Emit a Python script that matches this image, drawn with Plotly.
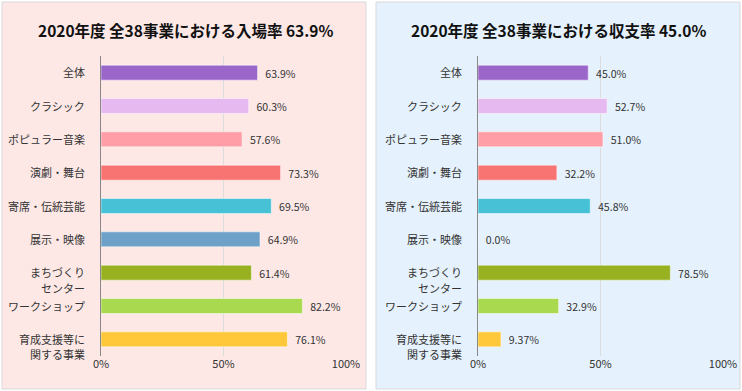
import plotly.graph_objects as go

categories = ["全体", "クラシック", "ポピュラー音楽", "演劇・舞台", "寄席・伝統芸能",
              "展示・映像", "まちづくり<br>センター", "ワークショップ", "育成支援等に<br>関する事業"]
attendance = [63.9, 60.3, 57.6, 73.3, 69.5, 64.9, 61.4, 82.2, 76.1]
attendance_text = ["63.9%", "60.3%", "57.6%", "73.3%", "69.5%", "64.9%", "61.4%", "82.2%", "76.1%"]
balance = [45.0, 52.7, 51.0, 32.2, 45.8, 0.0, 78.5, 32.9, 9.37]
balance_text = ["45.0%", "52.7%", "51.0%", "32.2%", "45.8%", "0.0%", "78.5%", "32.9%", "9.37%"]
bar_colors = ["#9b66c9", "#e6baf0", "#ff9ea6", "#f87472", "#46c1d6",
              "#6ea1c8", "#97b120", "#a9d94f", "#ffc73a"]
x_ticks = [0, 50, 100]
x_tick_labels = ["0%", "50%", "100%"]
titles = ["2020年度 全38事業における入場率 63.9%", "2020年度 全38事業における収支率 45.0%"]

W, H = 742, 391
font = "Noto Sans CJK JP"

fig = go.Figure()
for i, (vals, txt) in enumerate([(attendance, attendance_text), (balance, balance_text)]):
    xa = "x" if i == 0 else "x2"
    ya = "y" if i == 0 else "y2"
    fig.add_trace(go.Bar(
        x=vals, y=categories, orientation="h", xaxis=xa, yaxis=ya,
        marker=dict(color=bar_colors, line=dict(color="rgba(255,255,255,0.5)", width=1)),
        width=0.45, text=txt, texttemplate="  %{text}", textposition="outside", cliponaxis=False,
        textfont=dict(size=12, color="#333", family=font),
        hoverinfo="skip", showlegend=False,
    ))

def px_x(p):
    return p / W

def px_y(p):
    return 1 - p / H

left_dom = [px_x(101), px_x(346)]
right_dom = [px_x(478), px_x(723)]
ydom = [px_y(356), px_y(56)]

xcommon = dict(range=[0, 100], tickvals=x_ticks, ticktext=x_tick_labels, showgrid=True,
               gridcolor="#dcdcdc", gridwidth=1, zeroline=False, showline=False, automargin=False,
               tickfont=dict(size=11, color="#333", family=font), fixedrange=True)
ycommon = dict(autorange="reversed", showline=True, linecolor="#888", linewidth=1, automargin=False,
               showticklabels=False, ticks="", showgrid=False, fixedrange=True)

annotations = [
    dict(text="<b>" + titles[0] + "</b>", xref="paper", yref="paper", x=px_x(185), y=px_y(30),
         showarrow=False, font=dict(size=15.5, color="#111", family=font), xanchor="center", yanchor="middle"),
    dict(text="<b>" + titles[1] + "</b>", xref="paper", yref="paper", x=px_x(558), y=px_y(30),
         showarrow=False, font=dict(size=15.5, color="#111", family=font), xanchor="center", yanchor="middle"),
]
for xr, yr in [("x domain", "y"), ("x2 domain", "y2")]:
    for cat in categories:
        for k, line in enumerate(cat.split("<br>")):
            annotations.append(dict(
                text=line, xref=xr, yref=yr, x=0, y=cat, xanchor="right", yanchor="middle",
                xshift=-14, yshift=-k * 15.5 + 0.5, align="right", showarrow=False,
                font=dict(size=11, color="#333", family=font),
            ))

fig.update_layout(
    width=W, height=H, margin=dict(l=0, r=0, t=0, b=0, autoexpand=False),
    paper_bgcolor="white", plot_bgcolor="white",
    xaxis=dict(domain=left_dom, anchor="y", **xcommon),
    yaxis=dict(domain=ydom, anchor="x", **ycommon),
    xaxis2=dict(domain=right_dom, anchor="y2", **xcommon),
    yaxis2=dict(domain=ydom, anchor="x2", **ycommon),
    bargap=0.55,
    shapes=[
        dict(type="rect", xref="paper", yref="paper", x0=px_x(2), x1=px_x(366),
             y0=px_y(389), y1=px_y(2), fillcolor="#fde8e6", line=dict(color="#d9d9d9", width=1),
             layer="below"),
        dict(type="rect", xref="paper", yref="paper", x0=px_x(376), x1=px_x(740),
             y0=px_y(389), y1=px_y(2), fillcolor="#e5f1fc", line=dict(color="#d9d9d9", width=1),
             layer="below"),
    ],
    annotations=annotations,
)

fig.write_html("out.html", config={"displayModeBar": False},
               post_script="document.body.style.margin='0px';document.body.style.overflow='hidden';")
